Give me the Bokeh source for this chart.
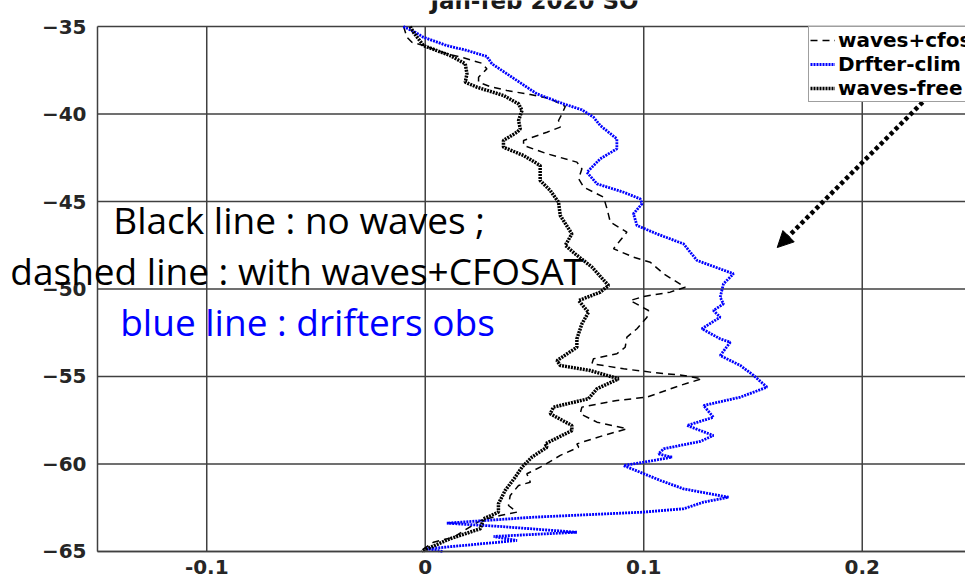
from bokeh.plotting import figure
from bokeh.models import (Range1d, FixedTicker, Label, Arrow, NormalHead,
                          Legend, LegendItem)
from bokeh.embed import file_html
from bokeh.resources import INLINE

# Latitude profiles of the zonal-mean velocity (Southern Ocean, Jan-Feb 2020)
drifter_x = [-0.010, -0.0046, -0.0009, 0.0099, 0.0191, 0.0282, 0.0305, 0.0420, 0.0511, 0.0633,
             0.0717, 0.0770, 0.0801, 0.0877, 0.0877, 0.0801, 0.0740, 0.0786, 0.0908, 0.0984,
             0.0992, 0.0953, 0.0969, 0.1060, 0.1182, 0.1244, 0.1411, 0.1365, 0.1350, 0.1365,
             0.1319, 0.1350, 0.1266, 0.1350, 0.1396, 0.1350, 0.1442, 0.1503, 0.1564, 0.1442,
             0.1274, 0.1319, 0.1198, 0.1319, 0.1259, 0.1091, 0.1068, 0.1129, 0.0999, 0.0908,
             0.1076, 0.1182, 0.1388, 0.1274, 0.1182, 0.0999, 0.0496, 0.0099, 0.0343, 0.0694,
             0.0313, 0.0420, 0.0008, 0.0082]
drifter_lat = [-35.00, -35.33, -35.61, -36.09, -36.37, -36.71, -37.13, -38.09, -38.85, -39.42,
               -39.76, -40.18, -40.66, -41.42, -41.99, -42.56, -43.33, -43.99, -44.47, -44.85,
               -45.13, -45.70, -46.37, -46.85, -47.42, -48.37, -49.13, -49.70, -50.47, -50.85,
               -51.23, -51.61, -52.27, -52.85, -53.04, -53.80, -54.37, -54.94, -55.61, -56.18,
               -56.66, -57.33, -57.80, -58.37, -58.71, -59.13, -59.42, -59.61, -59.90, -60.09,
               -60.94, -61.42, -61.90, -62.18, -62.56, -62.75, -63.04, -63.38, -63.57, -63.90,
               -64.14, -64.37, -64.85, -65.00]

cfosat_x = [-0.0099, -0.0084, -0.0061, -0.0008, 0.0099, 0.0175, 0.0259, 0.0282, 0.0244, 0.0244,
            0.0297, 0.0374, 0.0481, 0.0572, 0.0641, 0.0626, 0.0610, 0.0618, 0.0557, 0.0450,
            0.0450, 0.0557, 0.0694, 0.0717, 0.0702, 0.0725, 0.0816, 0.0832, 0.0847, 0.0923,
            0.0892, 0.0862, 0.0953, 0.1030, 0.1091, 0.1190, 0.1121, 0.0999, 0.0938, 0.1022,
            0.1015, 0.0969, 0.0923, 0.0915, 0.0877, 0.0770, 0.0763, 0.0908, 0.1030, 0.1182,
            0.1266, 0.1167, 0.1015, 0.0877, 0.0717, 0.0709, 0.0786, 0.0923, 0.0816, 0.0694,
            0.0702, 0.0618, 0.0541, 0.0465, 0.0481, 0.0427, 0.0389, 0.0381, 0.0420, 0.0343,
            0.0252, 0.0130, 0.0038, -0.0008, -0.0020]
cfosat_lat = [-35.00, -35.61, -35.90, -36.09, -36.56, -36.79, -37.10, -37.42, -37.90, -38.18,
              -38.43, -38.66, -38.89, -39.13, -39.57, -39.99, -40.37, -40.75, -41.04, -41.51,
              -41.80, -42.27, -42.75, -43.13, -43.70, -44.18, -44.75, -45.42, -46.18, -46.75,
              -47.23, -47.70, -48.18, -48.47, -49.13, -49.90, -50.18, -50.43, -50.66, -51.23,
              -51.61, -52.27, -52.75, -53.33, -53.70, -53.99, -54.27, -54.56, -54.75, -54.94,
              -55.13, -55.51, -56.18, -56.37, -56.75, -57.13, -57.61, -57.99, -58.37, -58.85,
              -59.04, -59.51, -60.09, -60.56, -61.04, -61.23, -61.80, -62.37, -62.75, -62.94,
              -63.23, -64.18, -64.47, -64.85, -65.00]

free_x = [-0.0069, -0.0054, -0.0008, 0.0114, 0.0183, 0.0191, 0.0183, 0.0237, 0.0358, 0.0427,
          0.0443, 0.0427, 0.0435, 0.0420, 0.0358, 0.0358, 0.0450, 0.0526, 0.0526, 0.0572,
          0.0610, 0.0618, 0.0671, 0.0641, 0.0686, 0.0763, 0.0839, 0.0801, 0.0702, 0.0747,
          0.0717, 0.0694, 0.0694, 0.0603, 0.0618, 0.0755, 0.0885, 0.0786, 0.0747, 0.0587,
          0.0572, 0.0671, 0.0671, 0.0549, 0.0557, 0.0488, 0.0443, 0.0412, 0.0366, 0.0335,
          0.0335, 0.0267, 0.0252, 0.0114, 0.0008, -0.0015]
free_lat = [-35.00, -35.33, -36.09, -36.66, -37.13, -37.70, -38.18, -38.47, -38.94, -39.42,
            -39.80, -40.37, -40.85, -41.04, -41.51, -41.90, -42.37, -42.94, -43.80, -44.37,
            -45.04, -45.80, -46.85, -47.51, -47.99, -48.75, -49.80, -50.18, -50.66, -51.33,
            -51.99, -52.85, -53.33, -54.09, -54.37, -54.66, -55.13, -55.70, -56.27, -56.75,
            -57.13, -57.80, -58.09, -58.85, -59.04, -59.61, -60.18, -60.75, -61.51, -62.27,
            -62.75, -63.13, -63.70, -64.27, -64.85, -65.00]

x_ticks = [-0.1, 0, 0.1, 0.2]
x_tick_labels = ["-0.1", "0", "0.1", "0.2"]
y_ticks = [-65, -60, -55, -50, -45, -40, -35]
x_limits = (-0.15, 0.25)
y_limits = (-65, -35)

series_labels = ["waves+cfosat", "Drfter-clim", "waves-free"]
title_text = "Jan-feb 2020 SO"
notes = ["Black line : no waves ;", "dashed line : with waves+CFOSAT", "blue line : drifters obs"]

FRAME = "#404040"
BLUE = "#0000ff"

# The frame covers the whole canvas; the axes sit at fixed data positions inside it,
# so the title and the side notes can run over the margins without being clipped.
p = figure(width=965, height=583, output_backend="svg", toolbar_location=None,
           x_range=Range1d(-0.19439, 0.24726), y_range=Range1d(-66.829, -33.514),
           min_border=0)
p.outline_line_color = None
p.background_fill_color = "white"
p.grid.visible = False

p.xaxis.fixed_location = y_limits[0]
p.xaxis.bounds = x_limits
p.yaxis.fixed_location = x_limits[0]
p.yaxis.bounds = y_limits
for ax in (p.xaxis[0], p.yaxis[0]):
    ax.axis_line_color = FRAME
    ax.axis_line_width = 1.5
    ax.major_tick_out = 0
    ax.major_tick_in = 0
    ax.minor_tick_out = 0
    ax.minor_tick_in = 0
    ax.major_label_text_font = "DejaVu Sans"
    ax.major_label_text_font_style = "bold"
    ax.major_label_text_font_size = "20px"
    ax.major_label_text_color = "#262626"

p.xaxis.ticker = FixedTicker(ticks=x_ticks)
p.xaxis.major_label_overrides = dict(zip(x_ticks, x_tick_labels))
p.xaxis.major_label_standoff = 9
p.yaxis.ticker = FixedTicker(ticks=y_ticks)
p.yaxis.major_label_standoff = 11

# grid lines, limited to the axes box
p.segment(x0=x_ticks, y0=[y_limits[0]] * len(x_ticks), x1=x_ticks, y1=[y_limits[1]] * len(x_ticks),
          line_color=FRAME, line_width=1.5)
p.segment(x0=[x_limits[0]] * len(y_ticks), y0=y_ticks, x1=[x_limits[1]] * len(y_ticks), y1=y_ticks,
          line_color=FRAME, line_width=1.5)

r_cfo = p.line(cfosat_x, cfosat_lat, line_color="black", line_width=1.5, line_dash="7 5")
r_drf = p.line(drifter_x, drifter_lat, line_color=BLUE, line_width=2.8, line_dash="2 1")
r_free = p.line(free_x, free_lat, line_color="black", line_width=3.5, line_dash="2 1")

legend = Legend(items=[LegendItem(label=series_labels[0], renderers=[r_cfo]),
                       LegendItem(label=series_labels[1], renderers=[r_drf]),
                       LegendItem(label=series_labels[2], renderers=[r_free])],
                location=(808, 481), orientation="vertical",
                label_text_font="DejaVu Sans", label_text_font_style="bold",
                label_text_font_size="20px", label_text_color="black",
                glyph_width=25, glyph_height=20, label_height=20, spacing=0,
                padding=1, margin=0, label_standoff=3,
                border_line_color=FRAME, border_line_width=1.5,
                background_fill_color="white", background_fill_alpha=1.0)
p.add_layout(legend, "center")

p.add_layout(Label(x=0.05, y=-33.55, text=title_text, text_align="center",
                   text_baseline="alphabetic", text_font="DejaVu Sans",
                   text_font_style="bold", text_font_size="23px", text_color="#1a1a1a"))

p.add_layout(Arrow(x_start=0.2458, y_start=-37.06, x_end=0.1611, y_end=-47.63,
                   line_color="black", line_width=4.5, line_dash="4 3",
                   end=NormalHead(size=16, fill_color="black", line_color="black", line_width=1)))

note_x = [-0.1428, -0.1899, -0.1396]
note_y = [-46.03, -48.95, -51.86]
note_colors = ["black", "black", BLUE]
for t, xx, yy, c in zip(notes, note_x, note_y, note_colors):
    p.add_layout(Label(x=xx, y=yy, text=t, text_align="left", text_baseline="alphabetic",
                       text_font="Open Sans", text_font_size="37px", text_color=c))

open("out.html", "w").write(file_html(p, INLINE))
